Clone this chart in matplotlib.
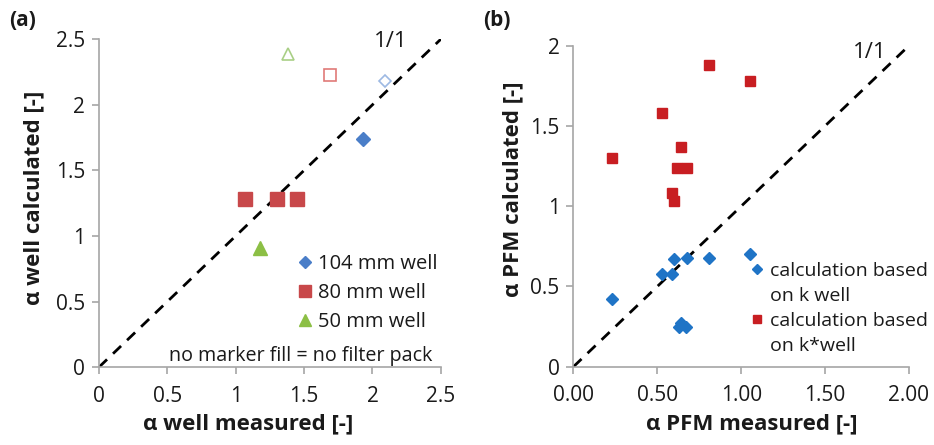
import matplotlib
matplotlib.use("Agg")
from matplotlib import pyplot as plt
from matplotlib.lines import Line2D

plt.rcParams['font.family'] = ['Open Sans', 'DejaVu Sans']

# panel (a): filled = with filter pack, open = no filter pack
d104_x = [1.93]
d104_y = [1.74]
d104_open_x = [2.09]
d104_open_y = [2.18]
d80_x = [1.07, 1.30, 1.45]
d80_y = [1.28, 1.28, 1.28]
d80_open_x = [1.69]
d80_open_y = [2.23]
d50_x = [1.18]
d50_y = [0.91]
d50_open_x = [1.38]
d50_open_y = [2.39]

# panel (b)
kwell_x = [0.23, 0.53, 0.59, 0.60, 0.68, 0.81, 1.05, 0.63, 0.64, 0.67]
kwell_y = [0.42, 0.58, 0.58, 0.67, 0.68, 0.68, 0.70, 0.25, 0.27, 0.25]
kstar_x = [0.23, 0.53, 0.81, 1.05, 0.64, 0.62, 0.68, 0.59, 0.60]
kstar_y = [1.30, 1.58, 1.88, 1.78, 1.37, 1.24, 1.24, 1.08, 1.03]

BLUE_A = '#4A7EC8'
RED_A = '#C8484A'
GREEN_A = '#8CBF45'
BLUE_B = '#1F74C6'
RED_B = '#C81E22'
GREY = '#A6A6A6'
TXT = '#1A1A1A'

fig = plt.figure(figsize=(9.34, 4.45), dpi=100)
ax1 = fig.add_axes([0.106, 0.175, 0.366, 0.737])
ax2 = fig.add_axes([0.614, 0.176, 0.359, 0.721])


def style(ax):
    for s in ['top', 'right']:
        ax.spines[s].set_visible(False)
    for s in ['left', 'bottom']:
        ax.spines[s].set_color(GREY)
        ax.spines[s].set_linewidth(1.2)
    ax.tick_params(colors=GREY, labelcolor=TXT, labelsize=15,
                   length=5, width=1.2)
    ax.tick_params(axis='y', pad=5)
    ax.tick_params(axis='x', pad=8.5)


# --- (a)
ax1.plot([0, 2.5], [0, 2.5], color='black', ls=(0, (4, 3)), lw=2, zorder=1)
ax1.plot(d80_x, d80_y, 's', color=RED_A, ms=9.5, zorder=3)
ax1.plot(d104_x, d104_y, 'D', color=BLUE_A, ms=7, zorder=3)
ax1.plot(d50_x, d50_y, '^', color=GREEN_A, ms=10, zorder=3)
ax1.plot(d104_open_x, d104_open_y, 'D', mfc='white', mec='#9DB9E3', mew=1.2, ms=6.5, zorder=3)
ax1.plot(d80_open_x, d80_open_y, 's', mfc='white', mec='#E07A78', mew=1.2, ms=8.5, zorder=3)
ax1.plot(d50_open_x, d50_open_y, '^', mfc='white', mec='#A9CF86', mew=1.2, ms=9, zorder=3)
ax1.set_xlim(0, 2.5)
ax1.set_ylim(0, 2.5)
ax1.set_xticks([0, 0.5, 1, 1.5, 2, 2.5])
ax1.set_xticklabels(['0', '0.5', '1', '1.5', '2', '2.5'])
ax1.set_yticks([0, 0.5, 1, 1.5, 2, 2.5])
ax1.set_yticklabels(['0', '0.5', '1', '1.5', '2', '2.5'])
style(ax1)
ax1.set_xlabel('α well measured [-]', fontsize=16, fontweight='bold', labelpad=5, color=TXT)
ax1.set_ylabel('α well calculated [-]', fontsize=16, fontweight='bold', labelpad=8, color=TXT)
ax1.xaxis.label.set_x(0.437)
ax1.yaxis.label.set_y(0.517)
ax1.text(2.135, 2.48, '1/1', fontsize=16, ha='center', va='center', color=TXT)

h_a = [Line2D([], [], ls='none', marker='D', color=BLUE_A, ms=6),
       Line2D([], [], ls='none', marker='s', color=RED_A, ms=9),
       Line2D([], [], ls='none', marker='^', color=GREEN_A, ms=8)]
ax1.legend(h_a, ['104 mm well', '80 mm well', '50 mm well'], loc='upper left',
           bbox_to_anchor=(0.585, 0.345), frameon=False, fontsize=14.5, labelcolor=TXT,
           handlelength=0.6, handletextpad=0.35, labelspacing=0.45, borderpad=0,
           borderaxespad=0)
ax1.text(2.44, 0.085, 'no marker fill = no filter pack', fontsize=14.2,
         ha='right', va='center', color=TXT)
fig.text(0.010, 0.955, '(a)', fontsize=15, fontweight='bold', va='center', color=TXT)

# --- (b)
ax2.plot([0, 2.0], [0, 2.0], color='black', ls=(0, (4, 3)), lw=2, zorder=1)
ax2.plot(kstar_x, kstar_y, 's', color=RED_B, ms=6.5, zorder=3)
ax2.plot(kwell_x, kwell_y, 'D', color=BLUE_B, ms=6, zorder=3)
ax2.set_xlim(0, 2.0)
ax2.set_ylim(0, 2.0)
ax2.set_xticks([0, 0.5, 1.0, 1.5, 2.0])
ax2.set_xticklabels(['0.00', '0.50', '1.00', '1.50', '2.00'])
ax2.set_yticks([0, 0.5, 1, 1.5, 2])
ax2.set_yticklabels(['0', '0.5', '1', '1.5', '2'])
style(ax2)
ax2.set_xlabel('α PFM measured [-]', fontsize=16, fontweight='bold', labelpad=5, color=TXT)
ax2.set_ylabel('α PFM calculated [-]', fontsize=16, fontweight='bold', labelpad=5, color=TXT)
ax2.xaxis.label.set_x(0.533)
ax2.yaxis.label.set_y(0.552)
ax2.text(1.77, 1.96, '1/1', fontsize=16, ha='center', va='center', color=TXT)

# two-line legend labels: second line gets an empty handle so the marker sits on line one
blank = Line2D([], [], ls='none', marker='none')
h_b = [Line2D([], [], ls='none', marker='D', color=BLUE_B, ms=5.5), blank,
       Line2D([], [], ls='none', marker='s', color=RED_B, ms=6), blank]
ax2.legend(h_b, ['calculation based', 'on k well', 'calculation based', 'on k*well'],
           loc='upper left', bbox_to_anchor=(0.53, 0.326), frameon=False, fontsize=14,
           labelcolor=TXT, handlelength=0.6, handletextpad=0.35, labelspacing=0.35,
           borderpad=0, borderaxespad=0)
fig.text(0.517, 0.955, '(b)', fontsize=15, fontweight='bold', va='center', color=TXT)

fig.savefig('out.png', dpi=100)
